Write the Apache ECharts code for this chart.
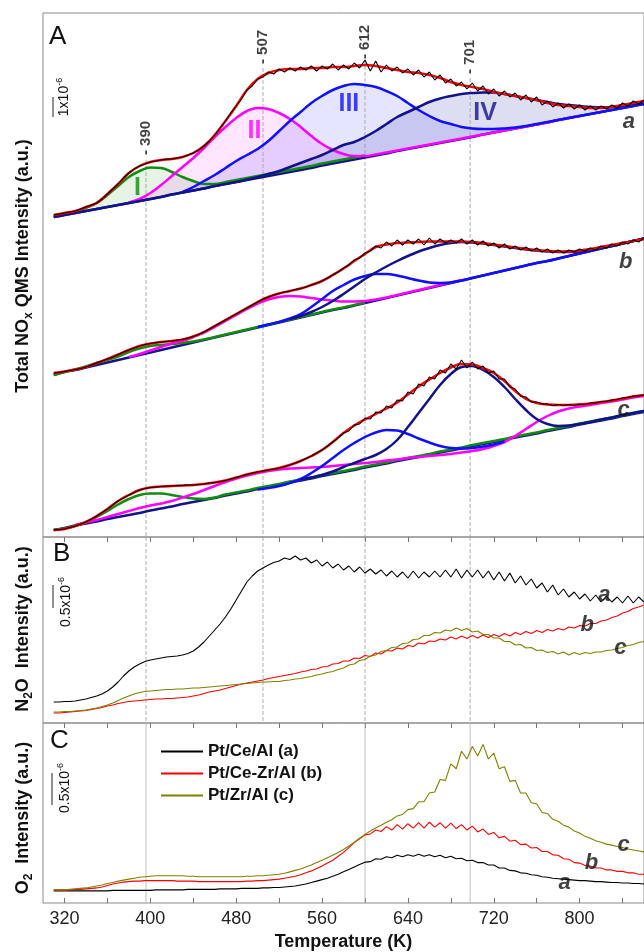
<!DOCTYPE html>
<html>
<head>
<meta charset="utf-8">
<title>TPD NOx / N2O / O2</title>
<script src="https://cdn.jsdelivr.net/npm/echarts/dist/echarts.min.js"></script>
<style>
  html, body { margin: 0; padding: 0; background: #fff; }
  #main { width: 644px; height: 952px; }
</style>
</head>
<body>
<div id="main"></div>
<script>
// temperature grids (K)
var T10 = [];
for (var t = 310; t <= 860; t += 10) T10.push(t);
var T5 = [];
for (t = 310; t <= 860; t += 5) T5.push(t);

var tickVals = [320, 360, 400, 440, 480, 520, 560, 600, 640, 680, 720, 760, 800, 840];
var labelVals = [320, 400, 480, 560, 640, 720, 800];

// ---- panel A : total NOx, sample a (with deconvolution) ----
var baseA = [320, 322, 324, 326, 328, 330, 332, 334, 336, 338,
    340, 342.5, 344.5, 346.5, 348.5, 351, 353, 355, 357, 359,
    361, 363, 365, 367, 369, 371.5, 373.5, 375.5, 377.5, 379.5,
    381.5, 383.5, 386, 388, 390, 392, 394, 396, 398, 400,
    402.5, 404.5, 406.5, 408.5, 410.5, 412.5, 414.5, 417, 419, 421,
    423, 425, 427, 429, 431, 433];
var peakIA = [320, 322.5, 325, 329, 334, 342, 351, 360, 366, 369.5,
    369, 365, 360, 356, 353, 353, 355, 357, 359, 361,
    363, 365, 367, 369, 371, 373.5, 375.5, 377.5, 379.5, 381.5,
    null, null, null, null, null, null, null, null, null, null,
    null, null, null, null, null, null, null, null, null, null,
    null, null, null, null, null, null];
var peakIIA = [null, null, null, null, null, null, null, 334.5, 338, 344,
    352, 361, 370, 379, 389, 400, 410, 419, 426, 429,
    428, 424, 418, 410, 401, 393, 387, 383, 381, 381,
    382.5, 384.5, 386.5, 388.5, 390.5, 392.5, 394.5, 396.5, 398.5, 400.5,
    402.5, 404.5, 406.5, 408.5, 410.5, 412.5, 414.5, 417, 419, 421,
    null, null, null, null, null, null];
var peakIIIA = [null, null, null, null, null, null, null, null, null, null,
    null, null, 345, 350, 356, 362, 369, 376, 382, 388,
    396, 406, 416, 425, 434, 441, 447, 451, 453, 452,
    450, 446, 441, 434, 427, 421, 416, 413, 410, 408.5,
    408, 408, 408.5, 409.5, 411, 413, 415, 417, 419, 421,
    423, 425, 427, 429, 431, 433];
var peakIVA = [320, 322, 324, 326, 328, 330, 332, 334, 336, 338,
    340, 342.5, 344.5, 346.5, 348.5, 351, 353, 355, 357.5, 360,
    363, 366, 370, 374, 378, 382, 387, 392, 395, 400,
    406, 413, 420, 425, 430, 435, 438.5, 441, 443, 444,
    444.5, 444.5, 443, 441, 439, 437, 435, 433, 432, 431,
    430, 429.5, 430, 431.5, 433, 434];
var fitA = [322, 324, 326, 330, 334, 343, 353, 364, 371, 375,
    377, 378, 380, 384, 391, 402, 416, 431, 447, 458,
    464, 467, 468, 468, 469, 469, 470, 470, 471, 472,
    471, 469, 467, 465, 464, 462, 459, 455, 452, 450,
    448, 445, 443, 441, 439, 437, 434, 432, 431, 430,
    429, 429, 430, 432, 434, 436];
var rawA = [322, 323, 324, 325, 326, 328, 330, 332, 334, 338,
    343, 348, 353, 359, 364, 368, 371, 373, 375, 376,
    377, 378, 378, 379, 380, 382, 384, 387, 391, 396,
    402, 409, 416, 424, 431, 438, 447, 451, 458, 460,
    465, 463, 468, 465, 469, 466, 470, 467, 471, 466,
    471, 468, 473, 467, 472, 468, 474, 469, 477, 466,
    476, 465, 472, 466, 470, 464, 468, 462, 467, 460,
    465, 457, 462, 454, 458, 451, 455, 448, 454, 446,
    451, 443, 448, 441, 446, 440, 444, 437, 442, 435,
    440, 432, 436, 430, 434, 429, 433, 428, 432, 427,
    431, 427, 431, 428, 432, 429, 434, 431, 436, 433,
    437];

// ---- panel A : sample b ----
var baseB = [162, 165, 167, 169.5, 172, 174.5, 177, 179.5, 182, 184.5,
    187, 189.5, 192, 194.5, 197, 199.5, 202, 204.5, 207, 209.5,
    212, 214.5, 217, 219.5, 222, 224.5, 227, 229, 231.5, 234,
    236.5, 239, 241.5, 244, 246.5, 249, 251.5, 254, 256.5, 259,
    261.5, 264, 266.5, 269, 271.5, 274, 276, 278.5, 281, 283.5,
    286, 288.5, 291, 293.5, 296, 298.5];
var peakIB = [162, 165, 167.5, 170.5, 174, 177, 180.5, 185, 188.5, 191,
    192, 193, 194, 195.5, 197.5, 200, 202.5, 205, 207.5, 210,
    212.5, 215, 217.5, 220, 222.5, 225, 227.5, 229.5, 232, 234.5,
    null, null, null, null, null, null, null, null, null, null,
    null, null, null, null, null, null, null, null, null, null,
    null, null, null, null, null, null];
var peakIIB = [null, null, null, null, null, null, null, 180, 183, 186.5,
    190, 193.5, 196, 200, 204.5, 210, 216, 222, 228, 233.5,
    237.5, 240, 241, 240.5, 239, 237.5, 236.5, 235.5, 235.5, 236,
    237.5, 239.5, 242, 244.5, 247, 249.5, 252, 254.5, 257, null,
    null, null, null, null, null, null, null, null, null, null,
    null, null, null, null, null, null];
var peakIIIB = [null, null, null, null, null, null, null, null, null, null,
    null, null, null, null, null, null, null, null, null, 210,
    212.5, 215, 218.5, 223, 230, 238, 246, 252, 257.5, 261,
    263, 263, 261.5, 259, 256.5, 254.5, 254, 254.5, 256.5, 259,
    261.5, 264, 266.5, 269, 271.5, 274, 276, 278.5, 281, 283.5,
    286, 288.5, 291, 293.5, 296, 298.5];
var peakIVB = [null, null, null, null, null, null, null, null, null, null,
    null, null, null, null, null, null, null, null, null, null,
    null, null, 218, 221, 225, 230, 236, 243, 250.5, 258,
    264.5, 270.5, 276, 281, 285.5, 289, 292, 294, 295, 294.5,
    293.5, 292, 290.5, 289, 287.5, 286.5, 285.5, 285, 285, 285.5,
    287, 289, 291, 293.5, 296, 298.5];
var fitB = [164, 165.5, 167.5, 170, 174, 178, 182.5, 187, 191, 193.5,
    195, 196, 197.5, 200.5, 205, 211, 217, 223, 229, 235,
    240, 243.5, 246, 248.5, 252, 256, 262, 268.5, 276, 283,
    290, 292.5, 294, 294.5, 295, 295.5, 295.5, 295.5, 295.5, 295,
    294, 292.5, 291, 289.5, 288, 287, 286, 285.5, 285.5, 286.5,
    288, 290, 292, 294, 296, 298];
var rawB = [164, 164.5, 165.5, 166.5, 167.5, 168.5, 170, 172, 174, 176,
    178, 180, 182.5, 185, 187, 189, 191, 192.5, 193.5, 194.5,
    195, 195.5, 196, 197, 197.5, 199, 200.5, 202.5, 205, 208,
    211, 214, 217, 220, 223, 226, 229, 232, 235, 238,
    240, 242, 243.5, 245, 246, 247.5, 248.5, 250, 252, 254,
    256, 259, 262, 265, 269, 272, 277, 279, 284, 286,
    291, 289, 295, 291, 297, 292, 297, 293, 298, 292,
    299, 293, 298, 294, 297, 294, 298, 293, 297, 292,
    296, 291, 294, 289, 293, 288, 291, 287, 290, 286,
    289, 285, 288, 284, 287, 284, 287, 285, 288, 286,
    289, 287, 291, 289, 293, 291, 295, 293, 297, 295,
    299];

// ---- panel A : sample c ----
var baseC = [7, 9, 11.5, 13.5, 15.5, 18, 20, 22, 24, 26.5,
    28.5, 30.5, 33, 35, 37, 39, 41.5, 43.5, 45.5, 48,
    50, 52, 54.5, 56.5, 58.5, 61, 63, 65, 67, 69.5,
    71.5, 73.5, 76, 78, 80, 82, 84.5, 86.5, 88.5, 91,
    93, 95, 97, 99.5, 101.5, 103.5, 106, 108, 110, 112.5,
    114.5, 116.5, 118.5, 121, 123, 125];
var peakIC = [7, 8.5, 11, 15, 20, 26, 32.5, 38, 42, 43.5,
    43.5, 42, 40, 38.5, 38, 39.5, 42.5, 44.5, 46.5, 49,
    51, 53, 55.5, 57.5, 59.5, 62, 64, 66, 68, 70.5,
    72.5, 74.5, 77, 79, 81, 83, 85.5, 87.5, 89.5, 92,
    94, 96, 98, 100.5, 102.5, 104.5, 107, 109, 111, 113.5,
    115.5, 117.5, 119.5, 122, 124, 126];
var peakIIC = [null, null, 12, 14.5, 17, 20, 23, 26, 29, 31.5,
    33.5, 36, 39.5, 43, 47, 51, 55, 58.5, 61.5, 64,
    66, 67.5, 68.5, 69, 69.5, 70, 71, 72, 73, 74,
    75, 76.5, 77.5, 79, 80, 81, 82, 83, 84.5, 86,
    88, 91, 95, 101, 108, 115, 121, 125.5, 128.5, 130.5,
    132, 134, 135.5, 137.5, 139.5, 141];
var peakIIIC = [null, null, null, null, null, null, null, null, null, null,
    null, null, null, null, null, null, null, null, null, 47.5,
    49, 51, 54, 58, 64, 71, 79, 87, 94, 100,
    104.5, 107, 106.5, 103, 98.5, 94.5, 91, 89, 88.5, 89,
    90.5, 92.5, 95.5, null, null, null, null, null, null, null,
    null, null, null, null, null, null];
var peakIVC = [null, null, null, null, null, null, null, null, null, null,
    null, null, null, null, null, null, null, null, null, null,
    null, null, null, 57, 59.5, 62, 65.5, 70, 74, 78,
    82, 88, 97, 110, 124, 138, 152, 163, 170, 171,
    167, 160, 150, 138, 127, 118, 113, 111, 111.5, 113,
    115, 117.5, 119.5, 122, 124, 126];
var fitC = [7, 8, 11, 15, 21, 28, 36, 42, 47, 49.5,
    50.5, 51, 51.5, 52, 53, 54.5, 56.5, 59.5, 62.5, 65,
    67, 69, 72, 76, 81, 87, 95, 104, 111.5, 117.5,
    123, 128.5, 134.5, 142.5, 150.5, 157.5, 164, 169.5, 173, 172.5,
    169, 164, 156, 146, 138, 134, 132.5, 132, 132, 132.5,
    133.5, 135, 136.5, 138.5, 140.5, 142];
var rawC = [7, 7.5, 8, 9.5, 11, 13, 15, 18, 21, 24.5,
    28, 32, 36, 39, 42, 44.5, 47, 48.5, 49.5, 50,
    50.5, 51, 51, 51.5, 51.5, 52, 52, 52.5, 53, 54,
    54.5, 55.5, 56.5, 58, 59.5, 61, 62.5, 64, 65, 66,
    67, 68, 69, 70.5, 72, 74, 76, 78.5, 81, 84,
    87, 91, 95, 99, 104, 106, 112, 113, 119, 118,
    125, 124, 131, 129, 137, 136, 145, 143, 153, 151,
    160, 158, 167, 164, 173, 168, 177, 169, 175, 168,
    171, 164, 166, 158, 158, 150, 148, 141, 140, 135,
    135, 133, 133, 131.5, 132.5, 131.5, 132.5, 131.5, 133, 132.5,
    134, 134, 135.5, 135.5, 137, 137.5, 139, 139.5, 141, 141,
    142];

// ---- panel B : N2O ----
var n2oA = [21, 21, 21.5, 21.5, 22, 23, 24, 25.5, 27, 29,
    32, 36, 41, 47, 52, 56, 59, 61.5, 63, 64,
    65, 66, 66.5, 67, 68, 69.5, 72, 76, 81, 87,
    93, 99, 106, 114, 123, 132, 141, 147, 152, 155,
    158, 160.5, 162, 165, 163.5, 167, 163, 165, 160, 163,
    157, 161, 155, 159, 153, 157, 151, 156, 150, 154,
    149, 153, 147, 152, 146, 151, 145, 152, 145, 151,
    146, 152, 146, 153, 146, 154, 145, 153, 146, 153,
    145, 152, 143, 151, 142, 150, 140, 147, 138, 144,
    135, 140, 131, 138, 128, 134, 126, 131, 124, 129,
    122, 128, 121, 127, 121, 126, 120, 127, 120, 126,
    121];
var n2oB = [10, 10, 10.5, 11, 11.5, 12, 12.5, 13.5, 14.5, 15.5,
    17, 18, 19.5, 20.5, 21.5, 22, 22.5, 23, 23.5, 24,
    24, 24.5, 24.5, 25, 25.5, 26, 27, 28, 29.5, 31,
    32, 33, 34.5, 36, 37.5, 39, 40, 41, 42, 43,
    44.5, 45.5, 46.5, 47.5, 48.5, 49.5, 51, 52, 53.5, 54,
    56, 56.5, 59, 59.5, 62, 62, 65, 64.5, 67.5, 66.5,
    70, 69, 72.5, 72, 75, 74, 77.5, 76.5, 80, 79,
    82, 81.5, 84, 83, 86, 84, 87, 84.5, 87.5, 85,
    88, 85.5, 88.5, 86.5, 89.5, 87, 90.5, 88.5, 91.5, 89.5,
    92.5, 90.5, 93.5, 92, 94.5, 93, 96, 95, 97.5, 97,
    99.5, 99.5, 102, 103, 105.5, 107, 110, 111.5, 114.5, 116,
    118];
var n2oC = [11, 11, 11.5, 11.5, 12, 12.5, 13, 14, 15, 16.5,
    18, 20, 22.5, 25, 27, 29, 30.5, 31.5, 32, 32.5,
    33, 33.5, 33.5, 34, 34, 34.5, 35, 35, 35.5, 36,
    36.5, 37, 37.5, 38, 38.5, 39, 39.5, 40, 40.5, 41,
    41, 41.5, 41.5, 42.5, 43, 44, 44.5, 45.5, 46.5, 48,
    49, 50.5, 51.5, 53.5, 55, 58, 59, 62.5, 63.5, 67,
    68, 71.5, 72.5, 75.5, 76, 79.5, 80, 83.5, 84, 87.5,
    87.5, 90.5, 90, 93, 92, 95, 92.5, 94.5, 91, 92,
    88.5, 88.5, 85, 85, 81.5, 81.5, 78, 78.5, 75, 75.5,
    72.5, 73, 70.5, 71.5, 69, 71, 68, 70.5, 68.5, 70.5,
    69.5, 71, 71, 72.5, 73, 74.5, 75.5, 77.5, 78.5, 80.5,
    81.5];

// ---- panel C : O2 ----
var o2A = [12.5, 12.5, 12.5, 12.5, 12.5, 12.5, 12.5, 12.5, 12.5, 12.5,
    12.5, 13, 13, 13, 13, 13, 13, 13, 13, 13.5,
    13.5, 13.5, 13.5, 13.5, 13.5, 14, 14, 14, 14, 14,
    14, 14.5, 14.5, 14.5, 14.5, 15, 15, 15, 15, 15.5,
    15.5, 16, 16, 16.5, 17, 17.5, 18.5, 19.5, 21, 22.5,
    24, 25.5, 27.5, 29.5, 32, 34.5, 37, 39.5, 42, 42.5,
    45.5, 45, 47.5, 46.5, 49, 47.5, 49.5, 48, 50, 48,
    49.5, 47.5, 49, 46.5, 48, 45.5, 46, 43.5, 44, 41.5,
    41.5, 39, 39, 36, 36, 33.5, 33, 31, 30.5, 29,
    28.5, 27, 26.5, 25.5, 25, 24.5, 24, 23.5, 23, 23,
    22.5, 22, 22, 21.5, 21, 21, 20.5, 20.5, 20, 20,
    19.5];
var o2B = [13.5, 13.5, 13.5, 13.5, 14, 14, 14.5, 15, 15.5, 16.5,
    18, 19.5, 20.5, 21.5, 22, 22.5, 22.5, 23, 23, 23,
    23, 23, 23, 22.5, 22.5, 22.5, 22.5, 22, 22, 22,
    22, 22, 22, 22, 22, 22, 22.5, 22.5, 23, 23,
    23.5, 24, 24.5, 25.5, 26.5, 27.5, 29, 31, 33, 35.5,
    38, 41, 44, 48, 52, 57, 62, 66, 70, 71,
    75, 73.5, 78.5, 75, 80.5, 76, 81.5, 77, 82.5, 77,
    83, 78, 82.5, 77, 82, 76.5, 80.5, 75, 79, 73,
    76, 70.5, 72.5, 67, 68.5, 63.5, 64.5, 60, 60.5, 56.5,
    57, 53, 53, 49.5, 49, 45.5, 45, 41.5, 41, 38.5,
    38, 36, 36, 34, 34, 32.5, 32.5, 31, 31, 29.5,
    29.5];
var o2C = [13.5, 13.5, 13.5, 14, 14.5, 15, 15.5, 16.5, 17.5, 18.5,
    20, 21, 22.5, 23.5, 24.5, 25.5, 26.5, 27, 27.5, 28,
    28, 28, 28, 28, 28, 27.5, 27.5, 27, 27, 27,
    27, 27, 27, 27, 27, 27, 27.5, 27.5, 28, 28,
    28.5, 29, 29.5, 30.5, 32, 33.5, 35, 37, 39, 41.5,
    44, 46.5, 49, 52, 55, 58.5, 62.5, 66.5, 70.5, 74,
    77, 80, 83, 85.5, 89.5, 91, 96, 97, 104, 104,
    113, 114, 127, 126, 143, 138, 156, 148, 161, 151,
    163, 148, 154, 138, 140, 125, 126, 113, 113, 103,
    102, 93, 92, 86, 84, 80, 78, 74, 72, 68.5,
    66.5, 64, 62.5, 60.5, 59.5, 58, 57, 55.5, 54.5, 53.5,
    52.5];

// peak positions marked in panel A
var markT = [396, 505, 600, 698];
var markText = ['- 390', '- 507', '- 612', '- 701'];
var markTopA = [377, 469, 477, 459];
var markLabelA = [399, 490, 495, 480];

var romanT = [388, 497, 585, 712];
var romanV = [349, 406, 433, 424];
var romanText = ['I', 'II', 'III', 'IV'];

var sampleNames = ['Pt/Ce/Al (a)', 'Pt/Ce-Zr/Al (b)', 'Pt/Zr/Al (c)'];

var cGreen = '#118c11', cMag = '#ff00ff', cBlue = '#1010ff', cNavy = '#12128c';
var cRed = '#ff0000', cOlive = '#808000';
var FONT = 'Arial, "Liberation Sans", sans-serif';

function pairs(xs, ys) {
    var out = [];
    for (var i = 0; i < xs.length; i++) out.push([xs[i], ys[i]]);
    return out;
}

var series = [];

function addLine(gi, xs, ys, color, width, extra) {
    var s = {
        type: 'line', xAxisIndex: gi, yAxisIndex: gi, data: pairs(xs, ys),
        symbol: 'none', silent: true, name: 'l' + series.length,
        lineStyle: { color: color, width: width }, itemStyle: { color: color }
    };
    if (extra) for (var k in extra) s[k] = extra[k];
    series.push(s);
}

// shaded area between a component and the baseline (panel A, sample a)
function addFill(base, comp, fill) {
    series.push({
        type: 'custom', xAxisIndex: 0, yAxisIndex: 0, data: [[300, 0]],
        silent: true, clip: true,
        renderItem: function (params, api) {
            var pts = [], i;
            for (i = 0; i < comp.length; i++) {
                if (comp[i] != null) pts.push(api.coord([T10[i], comp[i]]));
            }
            for (i = comp.length - 1; i >= 0; i--) {
                if (comp[i] != null) pts.push(api.coord([T10[i], base[i]]));
            }
            return { type: 'polygon', shape: { points: pts }, style: { fill: fill } };
        }
    });
}

function addTags(gi, xs, ys, texts, label) {
    var d = [];
    for (var i = 0; i < xs.length; i++) d.push([xs[i], ys[i], texts[i]]);
    label.show = true;
    label.position = 'inside';
    label.formatter = function (p) { return p.data[2]; };
    series.push({
        type: 'scatter', xAxisIndex: gi, yAxisIndex: gi, data: d, symbolSize: 1,
        silent: true, itemStyle: { color: 'rgba(0,0,0,0)' }, label: label, z: 5
    });
}

// vertical guide lines
var i;
for (i = 0; i < markT.length; i++) {
    addLine(0, [markT[i], markT[i]], [markTopA[i], 0], '#9a9a9a', 0.8, { lineStyle: { color: '#9a9a9a', width: 0.8, type: [4, 2] } });
    addLine(1, [markT[i], markT[i]], [186, 0], '#9a9a9a', 0.8, { lineStyle: { color: '#9a9a9a', width: 0.8, type: [4, 2] } });
    if (i != 1) addLine(2, [markT[i], markT[i]], [185, 0], '#b0b0b0', 0.8);
}
addTags(0, markT, markLabelA, markText, { rotate: 90, fontSize: 15, fontWeight: 'bold', color: '#111' });

// sample a, deconvoluted
addFill(baseA, peakIA, 'rgba(0,150,0,0.10)');
addFill(baseA, peakIIA, 'rgba(255,0,255,0.10)');
addFill(baseA, peakIIIA, 'rgba(40,40,255,0.12)');
addFill(baseA, peakIVA, 'rgba(20,20,160,0.14)');
addLine(0, T10, baseA, cNavy, 2.5, { smooth: 0.4 });
addLine(0, T10, peakIA, cGreen, 2.5, { smooth: 0.4 });
addLine(0, T10, peakIIA, cMag, 2.5, { smooth: 0.4 });
addLine(0, T10, peakIIIA, cBlue, 2.5, { smooth: 0.4 });
addLine(0, T10, peakIVA, cNavy, 2.5, { smooth: 0.4 });
addLine(0, T10, fitA, cRed, 2.5, { smooth: 0.4 });
addLine(0, T5, rawA, '#000', 1.1);

// sample b
addLine(0, T10, baseB, cNavy, 2.5, { smooth: 0.4 });
addLine(0, T10, peakIB, cGreen, 2.5, { smooth: 0.4 });
addLine(0, T10, peakIIB, cMag, 2.5, { smooth: 0.4 });
addLine(0, T10, peakIIIB, cBlue, 2.5, { smooth: 0.4 });
addLine(0, T10, peakIVB, cNavy, 2.5, { smooth: 0.4 });
addLine(0, T10, fitB, cRed, 2.5, { smooth: 0.4 });
addLine(0, T5, rawB, '#000', 1.1);

// sample c
addLine(0, T10, baseC, cNavy, 2.5, { smooth: 0.4 });
addLine(0, T10, peakIC, cGreen, 2.5, { smooth: 0.4 });
addLine(0, T10, peakIIC, cMag, 2.5, { smooth: 0.4 });
addLine(0, T10, peakIIIC, cBlue, 2.5, { smooth: 0.4 });
addLine(0, T10, peakIVC, cNavy, 2.5, { smooth: 0.4 });
addLine(0, T10, fitC, cRed, 2.5, { smooth: 0.4 });
addLine(0, T5, rawC, '#000', 1.1);

var romanColors = [cGreen, cMag, cBlue, cNavy];
for (i = 0; i < 4; i++) {
    addTags(0, [romanT[i]], [romanV[i]], [romanText[i]], { fontSize: 25, fontWeight: 'bold', color: romanColors[i] });
}

// N2O and O2 traces
addLine(1, T5, n2oA, '#000', 1.1);
addLine(1, T5, n2oB, cRed, 1.1);
addLine(1, T5, n2oC, cOlive, 1.1);
addLine(2, T5, o2A, '#000', 1.1, { name: sampleNames[0] });
addLine(2, T5, o2B, cRed, 1.1, { name: sampleNames[1] });
addLine(2, T5, o2C, cOlive, 1.1, { name: sampleNames[2] });

// curve letters
var letterStyle = { fontSize: 22, fontWeight: 'bold', fontStyle: 'italic', color: '#111' };
addTags(0, [846, 843, 841], [415, 275, 127], ['a', 'b', 'c'], letterStyle);
addTags(1, [823, 807, 838], [128, 98, 75], ['a', 'b', 'c'], letterStyle);
addTags(2, [786, 811, 841], [21, 41, 60], ['a', 'b', 'c'], letterStyle);

var gridBox = [[13, 524], [537, 186], [723, 185]];
var grids = [], xAxes = [], yAxes = [];
for (i = 0; i < 3; i++) {
    grids.push({ left: 43, top: gridBox[i][0], width: 608, height: gridBox[i][1],
        show: true, borderColor: '#8a8a8a', borderWidth: 1, backgroundColor: 'transparent' });
    xAxes.push({
        gridIndex: i, type: 'value', min: 300, max: 860,
        axisLine: { show: false }, splitLine: { show: false },
        axisTick: { show: true, inside: i == 2, length: 5, customValues: tickVals, lineStyle: { color: '#777' } },
        axisLabel: { show: i == 2, customValues: labelVals, fontSize: 18, color: '#222', margin: 7 },
        name: i == 2 ? 'Temperature (K)' : '', nameLocation: 'middle', nameGap: 30,
        nameTextStyle: { fontSize: 18, fontWeight: 'bold', color: '#111' }
    });
    yAxes.push({ gridIndex: i, type: 'value', min: 0, max: gridBox[i][1], show: false });
}

var sub = { fontSize: 12, lineHeight: 12, verticalAlign: 'bottom', fontWeight: 'bold', fontFamily: FONT };
var tt = { fontSize: 18, lineHeight: 24, fontWeight: 'bold', fontFamily: FONT };
var sc = { fontSize: 14, lineHeight: 18, fontFamily: FONT };
var sup = { fontSize: 9, lineHeight: 9, verticalAlign: 'top', fontFamily: FONT };

function vText(x, y, text, rich) {
    return { type: 'text', x: x, y: y, rotation: Math.PI / 2, silent: true,
        style: { text: text, rich: rich, fill: '#111', align: 'center', verticalAlign: 'middle' } };
}
function bar(x, y1, y2) {
    return { type: 'line', silent: true, shape: { x1: x, y1: y1, x2: x, y2: y2 }, style: { stroke: '#222', lineWidth: 1 } };
}
function letter(x, y, s) {
    return { type: 'text', x: x, y: y, silent: true,
        style: { text: s, font: '26px ' + FONT, fill: '#111', verticalAlign: 'middle' } };
}

var graphics = [
    vText(23, 266, '{t|Total NO}{s|x}{t| QMS Intensity (a.u.)}', { t: tt, s: sub }),
    vText(23, 629, '{t|N}{s|2}{t|O  Intensity (a.u.)}', { t: tt, s: sub }),
    vText(23, 818, '{t|O}{s|2}{t|  Intensity (a.u.)}', { t: tt, s: sub }),
    vText(64, 97, '{n|1x10}{p|-6}', { n: sc, p: sup }),
    vText(66, 602, '{n|0.5x10}{p|-6}', { n: sc, p: sup }),
    vText(65, 788, '{n|0.5x10}{p|-6}', { n: sc, p: sup }),
    bar(53, 97, 117), bar(53, 585, 608), bar(52, 773, 805),
    letter(49, 37, 'A'), letter(53, 554, 'B'), letter(50, 741, 'C')
];

var myChart = echarts.init(document.getElementById('main'));
var option = {
    animation: false,
    backgroundColor: '#fff',
    textStyle: { fontFamily: FONT },
    grid: grids,
    xAxis: xAxes,
    yAxis: yAxes,
    legend: {
        data: sampleNames, orient: 'vertical', left: 156, top: 738,
        itemWidth: 42, itemHeight: 2, icon: 'rect', itemGap: 5,
        textStyle: { fontSize: 17, fontWeight: 'bold', color: '#111' }
    },
    graphic: graphics,
    series: series
};
myChart.setOption(option);
</script>
</body>
</html>
